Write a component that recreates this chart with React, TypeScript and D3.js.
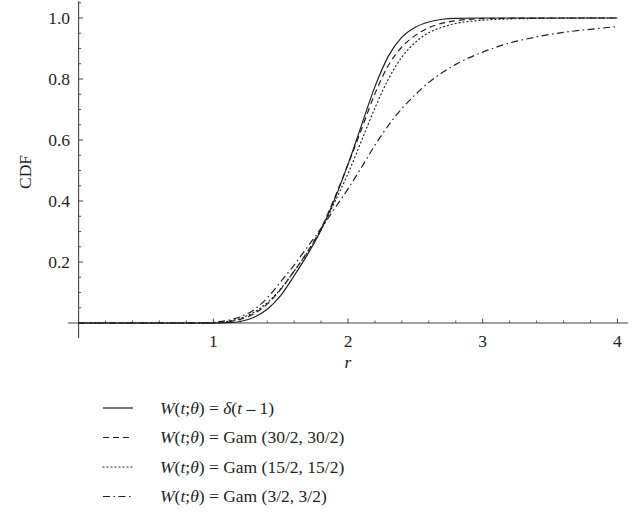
import React from "react";
import * as d3 from "d3";

// ---- data ----
const rDelta = [0, 1.0, 1.1, 1.2, 1.3, 1.4, 1.5, 1.6, 1.7, 1.8, 1.9, 2.0, 2.1, 2.2, 2.3, 2.4, 2.5, 2.6, 2.7, 2.8, 3.0, 4.0];
const cdfDelta = [0, 0, 0.001, 0.005, 0.018, 0.045, 0.09, 0.155, 0.225, 0.305, 0.405, 0.52, 0.648, 0.775, 0.875, 0.937, 0.97, 0.987, 0.996, 0.999, 1.0, 1.0];

const rGam30 = [0, 1.0, 1.1, 1.2, 1.3, 1.4, 1.5, 1.6, 1.7, 1.8, 1.9, 2.0, 2.1, 2.2, 2.3, 2.4, 2.5, 2.6, 2.7, 2.8, 3.0, 3.5, 4.0];
const cdfGam30 = [0, 0, 0.004, 0.012, 0.03, 0.062, 0.11, 0.17, 0.235, 0.31, 0.41, 0.52, 0.635, 0.752, 0.845, 0.905, 0.943, 0.968, 0.983, 0.991, 0.998, 1.0, 1.0];

const rGam15 = [0, 1.0, 1.1, 1.2, 1.3, 1.4, 1.5, 1.6, 1.7, 1.8, 1.9, 2.0, 2.1, 2.2, 2.3, 2.4, 2.5, 2.6, 2.7, 2.8, 3.0, 3.2, 3.5, 4.0];
const cdfGam15 = [0, 0, 0.005, 0.015, 0.035, 0.066, 0.112, 0.17, 0.232, 0.305, 0.395, 0.49, 0.597, 0.705, 0.8, 0.872, 0.92, 0.952, 0.97, 0.982, 0.993, 0.997, 0.999, 1.0];

const rGam3 = [0, 0.8, 0.9, 1.0, 1.1, 1.2, 1.3, 1.4, 1.5, 1.6, 1.7, 1.8, 1.9, 2.0, 2.1, 2.2, 2.3, 2.4, 2.5, 2.6, 2.7, 2.8, 3.0, 3.2, 3.4, 3.6, 3.8, 4.0];
const cdfGam3 = [0, 0, 0.0005, 0.002, 0.008, 0.02, 0.043, 0.082, 0.135, 0.19, 0.25, 0.31, 0.375, 0.44, 0.51, 0.583, 0.648, 0.703, 0.749, 0.789, 0.821, 0.848, 0.888, 0.918, 0.938, 0.953, 0.963, 0.972];

const xMajorTicks = [1, 2, 3, 4];
const xTickLabels = ["1", "2", "3", "4"];
const yMajorTicks = [0.2, 0.4, 0.6, 0.8, 1.0];
const yTickLabels = ["0.2", "0.4", "0.6", "0.8", "1.0"];

const legendArgs = ["δ(t – 1)", "Gam (30/2, 30/2)", "Gam (15/2, 15/2)", "Gam (3/2, 3/2)"];
const dashes = ["none", "6,4", "1,3", "7,3.5,1.5,3.5"];

const FONT = "'Liberation Serif', 'Times New Roman', serif";
const INK = "#231f20";

export default function App() {
  const x = d3.scaleLinear().domain([0, 4]).range([78.6, 617.4]);
  const y = d3.scaleLinear().domain([0, 1]).range([323, 18]);

  const series = [
    { r: rDelta, v: cdfDelta },
    { r: rGam30, v: cdfGam30 },
    { r: rGam15, v: cdfGam15 },
    { r: rGam3, v: cdfGam3 },
  ];

  const line = d3
    .line<[number, number]>()
    .x((d) => x(d[0]))
    .y((d) => y(d[1]))
    .curve(d3.curveMonotoneX);

  const xMinor = d3.range(0, 4.0001, 0.2).filter((t) => Math.abs(t - Math.round(t)) > 1e-6);
  const yMinor = d3.range(0.05, 1.051, 0.05).filter((t) => Math.abs(t * 5 - Math.round(t * 5)) > 1e-6);

  const legendY = (i: number) => 408 + i * 29.5;

  return (
    <svg
      width={637}
      height={518}
      style={{ position: "absolute", left: 0, top: 0, background: "#fff" }}
      fontFamily={FONT}
    >
      {/* axes */}
      <line x1={x(-0.08)} x2={x(4.08)} y1={y(0)} y2={y(0)} stroke="#444" strokeWidth={1.1} />
      <line x1={x(0)} x2={x(0)} y1={y(1.055)} y2={y(-0.05)} stroke="#444" strokeWidth={1.1} />

      {xMajorTicks.map((t, i) => (
        <g key={"xt" + t}>
          <line x1={x(t)} x2={x(t)} y1={y(0)} y2={y(0) - 4.5} stroke="#444" strokeWidth={1} />
          <text x={x(t)} y={347} textAnchor="middle" fontSize={17.5} fill={INK}>
            {xTickLabels[i]}
          </text>
        </g>
      ))}
      {xMinor.map((t) => (
        <line key={"xm" + t} x1={x(t)} x2={x(t)} y1={y(0)} y2={y(0) - 2.5} stroke="#444" strokeWidth={0.9} />
      ))}
      {yMajorTicks.map((t, i) => (
        <g key={"yt" + t}>
          <line x1={x(0)} x2={x(0) + 4.5} y1={y(t)} y2={y(t)} stroke="#444" strokeWidth={1} />
          <text x={70} y={y(t) + 5.5} textAnchor="end" fontSize={17.5} fill={INK}>
            {yTickLabels[i]}
          </text>
        </g>
      ))}
      {yMinor.map((t) => (
        <line key={"ym" + t} x1={x(0)} x2={x(0) + 2.5} y1={y(t)} y2={y(t)} stroke="#444" strokeWidth={0.9} />
      ))}

      {/* axis titles */}
      <text x={348} y={368} textAnchor="middle" fontSize={17.5} fontStyle="italic" fill={INK}>
        r
      </text>
      <text
        transform="translate(31,172) rotate(-90)"
        textAnchor="middle"
        fontSize={17.5}
        fill={INK}
      >
        CDF
      </text>

      {/* curves */}
      {series.map((s, i) => (
        <path
          key={"s" + i}
          d={line(s.r.map((r, j) => [r, s.v[j]] as [number, number])) || ""}
          fill="none"
          stroke={INK}
          strokeWidth={1.2}
          strokeDasharray={dashes[i]}
          strokeLinecap={i === 2 ? "round" : "butt"}
        />
      ))}

      {/* legend */}
      {legendArgs.map((arg, i) => (
        <g key={"lg" + i}>
          <line
            x1={103}
            x2={133}
            y1={legendY(i)}
            y2={legendY(i)}
            stroke={INK}
            strokeWidth={1.2}
            strokeDasharray={dashes[i]}
            strokeLinecap={i === 2 ? "round" : "butt"}
          />
          <text x={160} y={legendY(i) + 5.5} fontSize={17.5} fill={INK}>
            <tspan fontStyle="italic">W</tspan>
            <tspan>(</tspan>
            <tspan fontStyle="italic">t</tspan>
            <tspan>;</tspan>
            <tspan fontStyle="italic">θ</tspan>
            <tspan>) = </tspan>
            {i === 0 ? (
              <>
                <tspan fontStyle="italic">δ</tspan>
                <tspan>(</tspan>
                <tspan fontStyle="italic">t</tspan>
                <tspan> – 1)</tspan>
              </>
            ) : (
              <tspan>{arg}</tspan>
            )}
          </text>
        </g>
      ))}
    </svg>
  );
}
